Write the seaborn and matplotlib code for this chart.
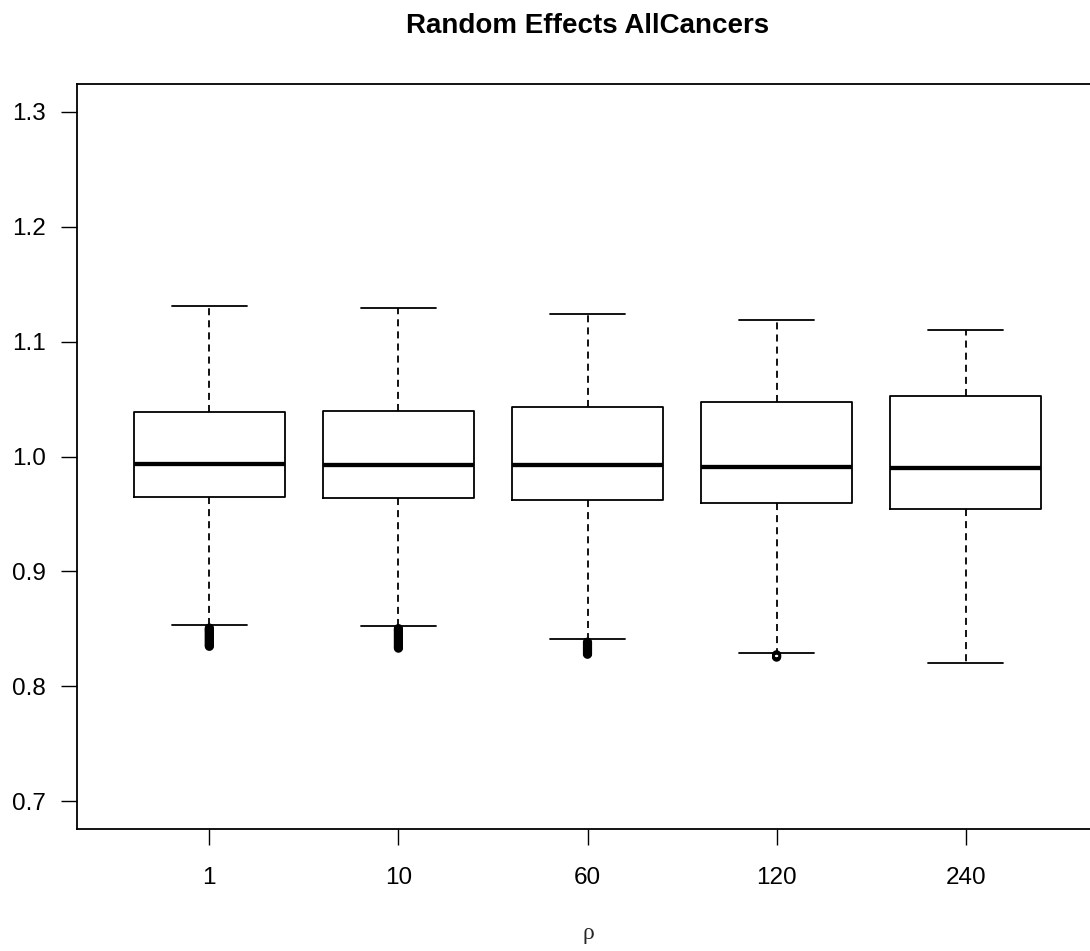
import numpy as np
import pandas as pd
import matplotlib
matplotlib.use("Agg")
import matplotlib.pyplot as plt
import seaborn as sns

# ---- data ----
groups = ["1", "10", "60", "120", "240"]
whis_low = [0.8533, 0.8528, 0.8409, 0.8290, 0.8206]
q1 = [0.9650, 0.9643, 0.9620, 0.9597, 0.9542]
median = [0.9933, 0.9928, 0.9922, 0.9913, 0.9904]
q3 = [1.0385, 1.0397, 1.0432, 1.0472, 1.0524]
whis_high = [1.1307, 1.1293, 1.1237, 1.1183, 1.1098]

outliers_1 = [0.8508, 0.8500, 0.8492, 0.8484, 0.8476, 0.8466, 0.8456, 0.8446,
              0.8436, 0.8426, 0.8416, 0.8406, 0.8396, 0.8386, 0.8376, 0.8366,
              0.8357, 0.8349]
outliers_10 = [0.8503, 0.8495, 0.8487, 0.8478, 0.8468, 0.8458, 0.8448, 0.8438,
               0.8428, 0.8418, 0.8407, 0.8396, 0.8385, 0.8374, 0.8363, 0.8352,
               0.8342, 0.8333]
outliers_60 = [0.8385, 0.8377, 0.8369, 0.8360, 0.8351, 0.8342, 0.8333, 0.8324,
               0.8315, 0.8306, 0.8297, 0.8288, 0.8280]
outliers_120 = [0.8275, 0.8268, 0.8261, 0.8255]
outliers_240 = []

yticks = [0.7, 0.8, 0.9, 1.0, 1.1, 1.2, 1.3]
title = "Random Effects AllCancers"
xlabel = "ρ"

# ---- build tables ----
rows = []
for g, a, b, c, d, e in zip(groups, whis_low, q1, median, q3, whis_high):
    for v in (a, b, c, d, e):
        rows.append({"rho": g, "value": v})
df_box = pd.DataFrame(rows)

out_rows = []
for g, lst in zip(groups, [outliers_1, outliers_10, outliers_60, outliers_120, outliers_240]):
    for v in lst:
        out_rows.append({"rho": g, "value": v})
df_out = pd.DataFrame(out_rows)

sns.set_style("ticks")
plt.rcParams["font.family"] = ["Liberation Sans", "DejaVu Sans"]

W, H = 1090, 951
fig = plt.figure(figsize=(W / 100, H / 100), dpi=100)
left, right, top, bottom = 77, 1098, 84, 829
ax = fig.add_axes([left / W, 1 - bottom / H, (right - left) / W, (bottom - top) / H])

sns.boxplot(data=df_box, x="rho", y="value", order=groups, whis=(0, 100),
            width=0.8, fill=False, color="black", linewidth=1.3,
            showfliers=False,
            medianprops=dict(linewidth=3.1, color="black"),
            whiskerprops=dict(linestyle=(0, (3.9, 2.8)), color="black"),
            capprops=dict(color="black"),
            ax=ax)

n_before = len(ax.collections)
sns.stripplot(data=df_out, x="rho", y="value", order=groups, jitter=False,
              color="black", size=5.0, marker="o", linewidth=1.6,
              edgecolor="black", ax=ax)
for coll in ax.collections[n_before:]:
    coll.set_facecolor("none")
    coll.set_edgecolor("black")

ax.set_xlim(-0.7, 4.7)
ax.set_ylim(0.676, 1.324)
ax.set_yticks(yticks)
ax.set_yticklabels([f"{t:.1f}" for t in yticks])
ax.set_ylabel("")
ax.set_xlabel(xlabel, family=["Liberation Serif", "DejaVu Serif"], fontsize=17,
              va="baseline")
ax.xaxis.set_label_coords((588 - left) / (right - left), (bottom - 938.5) / (bottom - top))

for s in ax.spines.values():
    s.set_visible(True)
    s.set_color("black")
    s.set_linewidth(1.3)

ax.tick_params(axis="both", direction="out", length=11.5, width=1.0,
               color="black", labelsize=17.5, labelcolor="black")
ax.tick_params(axis="y", pad=11.0)
ax.tick_params(axis="x", pad=16)

fig.text((left + right) / 2 / W, 1 - 33 / H, title, ha="center", va="baseline",
         fontsize=20, fontweight="bold", color="black")

fig.savefig("out.png", dpi=100, facecolor="white")
